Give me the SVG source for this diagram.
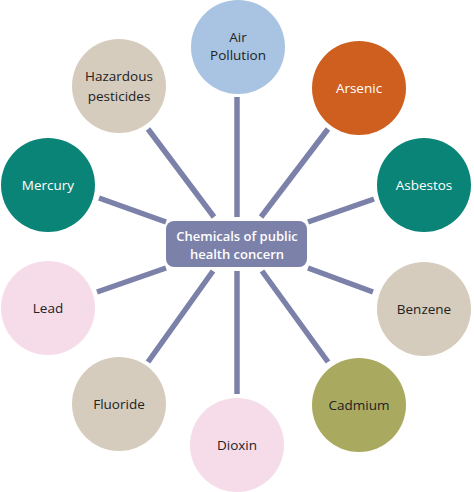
<svg xmlns="http://www.w3.org/2000/svg" width="474" height="492" viewBox="0 0 474 492">
<style>
.sp{stroke:#7c81aa;stroke-width:5.5;stroke-linecap:butt;fill:none}
.t{font-family:"Open Sans","Liberation Sans",sans-serif;font-size:13.5px;text-anchor:middle;dominant-baseline:central}
.d{fill:#222}
.w{fill:#fff}
.c{font-family:"Open Sans","Liberation Sans",sans-serif;font-size:13px;font-weight:600;fill:#fff;text-anchor:middle;dominant-baseline:central}
</style>
<rect width="474" height="492" fill="#fff"/>
<g id="connectors">
<line class="sp" x1="237" y1="97" x2="237" y2="217"/>
<line class="sp" x1="328" y1="129" x2="261" y2="217"/>
<line class="sp" x1="374" y1="199" x2="308" y2="222"/>
<line class="sp" x1="373" y1="292" x2="308" y2="268"/>
<line class="sp" x1="328" y1="362" x2="262" y2="271"/>
<line class="sp" x1="237" y1="394" x2="237" y2="271"/>
<line class="sp" x1="148" y1="362" x2="213" y2="271"/>
<line class="sp" x1="97" y1="292" x2="166" y2="268"/>
<line class="sp" x1="99" y1="198" x2="166" y2="222"/>
<line class="sp" x1="148" y1="129" x2="214" y2="217"/>
</g>
<g id="center">
<rect x="166" y="221" width="141" height="46" rx="8" fill="#7c81aa"/>
<text class="c" x="237" y="236">Chemicals of public</text>
<text class="c" x="237" y="254">health concern</text>
</g>
<g id="air-pollution">
<circle cx="238" cy="47" r="47" fill="#a8c4e2"/>
<text class="t d" x="238" y="37">Air</text>
<text class="t d" x="238" y="55">Pollution</text>
</g>
<g id="arsenic">
<circle cx="359" cy="88" r="47" fill="#cf5f1f"/>
<text class="t w" x="359" y="88">Arsenic</text>
</g>
<g id="asbestos">
<circle cx="424" cy="185" r="47" fill="#0b8478"/>
<text class="t w" x="424" y="185">Asbestos</text>
</g>
<g id="benzene">
<circle cx="424" cy="309" r="47" fill="#d6ccbe"/>
<text class="t d" x="424" y="309">Benzene</text>
</g>
<g id="cadmium">
<circle cx="359" cy="405" r="47" fill="#a9a95f"/>
<text class="t d" x="359" y="405">Cadmium</text>
</g>
<g id="dioxin">
<circle cx="237" cy="445" r="47" fill="#f5dce8"/>
<text class="t d" x="237" y="445">Dioxin</text>
</g>
<g id="fluoride">
<circle cx="119" cy="404" r="47" fill="#d6ccbe"/>
<text class="t d" x="119" y="404">Fluoride</text>
</g>
<g id="lead">
<circle cx="48" cy="308" r="47" fill="#f5dce8"/>
<text class="t d" x="48" y="308">Lead</text>
</g>
<g id="mercury">
<circle cx="48" cy="185" r="47" fill="#0b8478"/>
<text class="t w" x="48" y="185">Mercury</text>
</g>
<g id="hazardous-pesticides">
<circle cx="119" cy="86" r="47" fill="#d6ccbe"/>
<text class="t d" x="119" y="76">Hazardous</text>
<text class="t d" x="119" y="96">pesticides</text>
</g>
</svg>
